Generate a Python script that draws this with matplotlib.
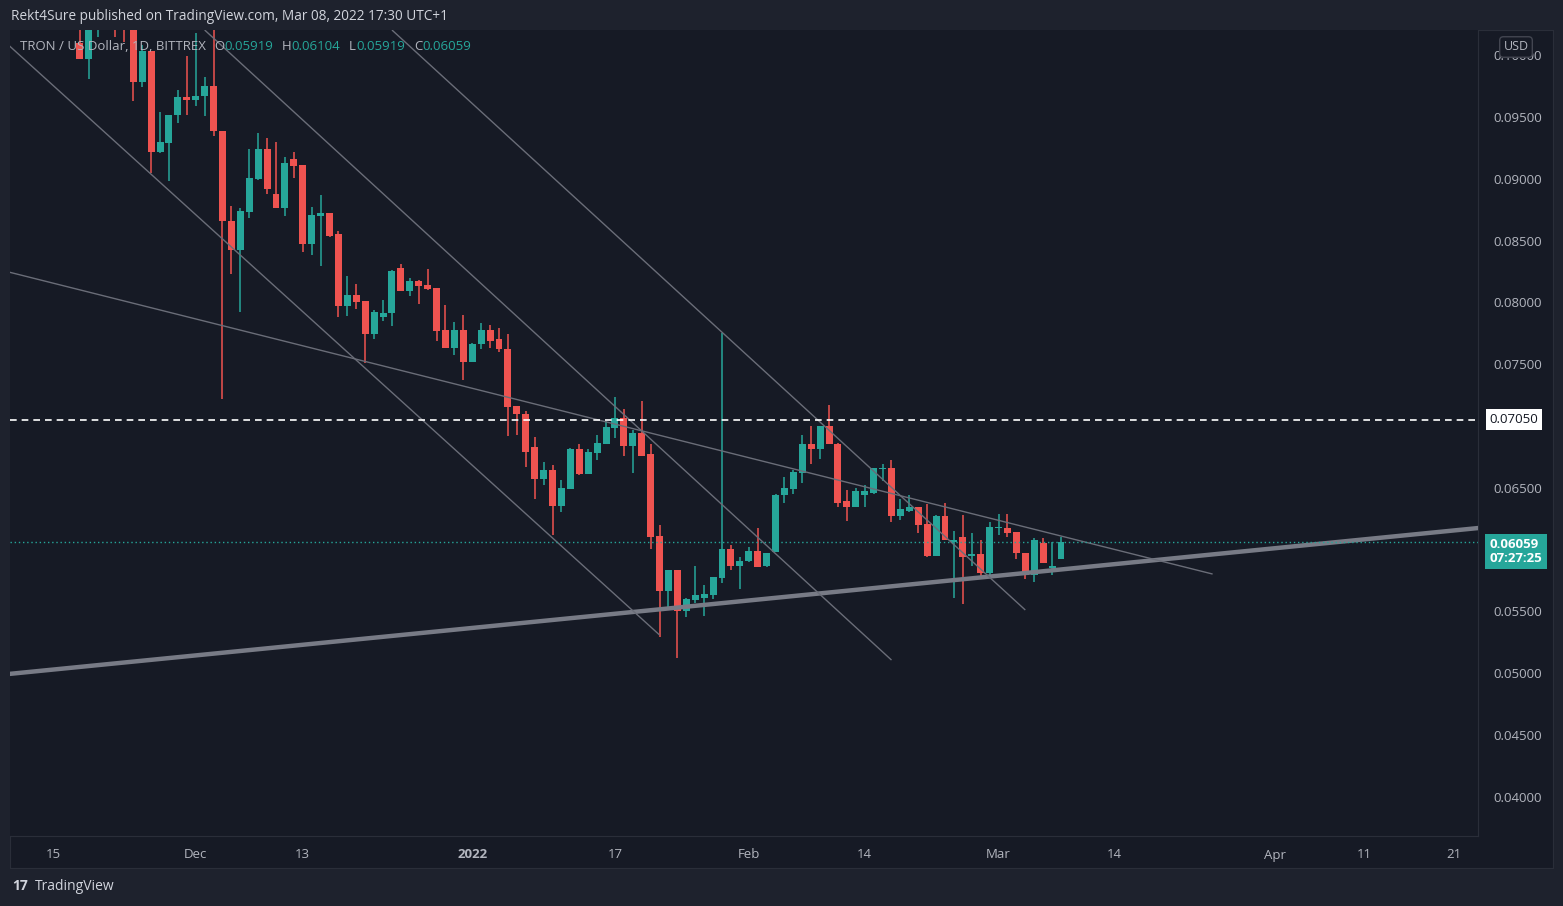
import matplotlib
matplotlib.use("Agg")
import matplotlib.pyplot as plt
import matplotlib.dates as mdates
import numpy as np
import datetime as dt

plt.rcParams["font.family"] = "Open Sans"

# ---------------- data ----------------
start_date = dt.date(2021, 11, 18)
opens = [0.1010, 0.0997, 0.1020, 0.1040, 0.1030, 0.1022, 0.1020, 0.0978, 0.1003, 0.0922, 0.0929, 0.0952,
         0.0966, 0.0964, 0.0967, 0.0975, 0.0939, 0.0866, 0.0842, 0.0873, 0.0900, 0.0924, 0.0888, 0.0876,
         0.0916, 0.0911, 0.0847, 0.0870, 0.0872, 0.0855, 0.0797, 0.0806, 0.0801, 0.0774, 0.0788, 0.0791,
         0.0828, 0.0809, 0.0817, 0.0814, 0.0812, 0.0778, 0.0763, 0.0778, 0.0752, 0.0766, 0.0778, 0.0770,
         0.0762, 0.0716, 0.0710, 0.0683, 0.0657, 0.0664, 0.0635, 0.0649, 0.0681, 0.0661, 0.0678, 0.0685,
         0.0698, 0.0706, 0.0684, 0.0694, 0.0677, 0.0611, 0.0566, 0.0583, 0.0550, 0.0559, 0.0561, 0.0563,
         0.0577, 0.0600, 0.0587, 0.0591, 0.0599, 0.0587, 0.0598, 0.0644, 0.0649, 0.0662, 0.0685, 0.0681,
         0.0700, 0.0685, 0.0639, 0.0634, 0.0644, 0.0646, 0.0665, 0.0666, 0.0627, 0.0631, 0.0634, 0.0621,
         0.0595, 0.0627, 0.0606, 0.0610, 0.0595, 0.0596, 0.0581, 0.0617, 0.0617, 0.0614, 0.0597, 0.0579,
         0.0605, 0.0585, 0.05919]
closes = [0.0997, 0.1020, 0.1040, 0.1030, 0.1022, 0.1020, 0.0978, 0.1003, 0.0922, 0.0930, 0.0952, 0.0966,
          0.0964, 0.0967, 0.0975, 0.0939, 0.0866, 0.0842, 0.0874, 0.0901, 0.0924, 0.0892, 0.0876, 0.0913,
          0.0910, 0.0847, 0.0871, 0.0872, 0.0854, 0.0797, 0.0806, 0.0800, 0.0774, 0.0792, 0.0791, 0.0825,
          0.0809, 0.0817, 0.0813, 0.0811, 0.0777, 0.0763, 0.0778, 0.0752, 0.0766, 0.0778, 0.0769, 0.0762,
          0.0715, 0.0710, 0.0679, 0.0657, 0.0664, 0.0635, 0.0650, 0.0681, 0.0661, 0.0679, 0.0686, 0.0699,
          0.0706, 0.0684, 0.0694, 0.0676, 0.0610, 0.0566, 0.0583, 0.0550, 0.0560, 0.0563, 0.0564, 0.0578,
          0.0600, 0.0587, 0.0591, 0.0599, 0.0586, 0.0597, 0.0644, 0.0650, 0.0663, 0.0685, 0.0681, 0.0700,
          0.0685, 0.0638, 0.0634, 0.0647, 0.0647, 0.0666, 0.0666, 0.0627, 0.0633, 0.0634, 0.0620, 0.0595,
          0.0627, 0.0608, 0.0608, 0.0594, 0.0596, 0.0581, 0.0618, 0.0618, 0.0613, 0.0597, 0.0579, 0.0608,
          0.0589, 0.0587, 0.06059]
highs = [0.1030, 0.1025, 0.1050, 0.1045, 0.1035, 0.1030, 0.1022, 0.1008, 0.1003, 0.0954, 0.0952, 0.0972,
         0.0999, 0.1018, 0.0982, 0.1020, 0.0939, 0.0878, 0.0876, 0.0924, 0.0937, 0.0933, 0.0930, 0.0918,
         0.0922, 0.0911, 0.0877, 0.0887, 0.0872, 0.0858, 0.0821, 0.0815, 0.0801, 0.0794, 0.0802, 0.0826,
         0.0831, 0.0820, 0.0818, 0.0827, 0.0812, 0.0798, 0.0784, 0.0790, 0.0767, 0.0783, 0.0782, 0.0779,
         0.0774, 0.0716, 0.0712, 0.0691, 0.0671, 0.0668, 0.0656, 0.0682, 0.0685, 0.0681, 0.0693, 0.0704,
         0.0723, 0.0714, 0.0697, 0.0720, 0.0685, 0.0620, 0.0583, 0.0583, 0.0561, 0.0587, 0.0571, 0.0578,
         0.0775, 0.0604, 0.0594, 0.0602, 0.0617, 0.0597, 0.0645, 0.0659, 0.0664, 0.0693, 0.0700, 0.0700,
         0.0717, 0.0686, 0.0648, 0.0650, 0.0652, 0.0666, 0.0669, 0.0672, 0.0641, 0.0644, 0.0634, 0.0637,
         0.0628, 0.0638, 0.0615, 0.0628, 0.0613, 0.0608, 0.0622, 0.0629, 0.0629, 0.0614, 0.0597, 0.0609,
         0.0609, 0.0606, 0.06104]
lows = [0.0997, 0.0981, 0.1015, 0.1020, 0.1015, 0.1011, 0.0963, 0.0974, 0.0905, 0.0921, 0.0898, 0.0945,
        0.0952, 0.0959, 0.0951, 0.0935, 0.0722, 0.0823, 0.0792, 0.0868, 0.0899, 0.0888, 0.0876, 0.0870,
        0.0901, 0.0841, 0.0838, 0.0829, 0.0853, 0.0788, 0.0789, 0.0795, 0.0751, 0.0770, 0.0785, 0.0781,
        0.0809, 0.0805, 0.0799, 0.0810, 0.0769, 0.0763, 0.0757, 0.0737, 0.0752, 0.0762, 0.0763, 0.0760,
        0.0692, 0.0693, 0.0667, 0.0641, 0.0652, 0.0612, 0.0630, 0.0649, 0.0660, 0.0661, 0.0672, 0.0685,
        0.0690, 0.0676, 0.0662, 0.0676, 0.0600, 0.0529, 0.0553, 0.0512, 0.0545, 0.0557, 0.0546, 0.0560,
        0.0573, 0.0583, 0.0568, 0.0590, 0.0586, 0.0586, 0.0598, 0.0638, 0.0645, 0.0654, 0.0669, 0.0673,
        0.0685, 0.0634, 0.0623, 0.0634, 0.0634, 0.0645, 0.0655, 0.0622, 0.0624, 0.0630, 0.0613, 0.0594,
        0.0595, 0.0608, 0.0561, 0.0556, 0.0587, 0.0576, 0.0578, 0.0612, 0.0610, 0.0592, 0.0576, 0.0574,
        0.0589, 0.0579, 0.05919]

# trend lines: (start date, start price, end date, end price)
support_line = (dt.date(2021, 11, 10), 0.04992, dt.date(2022, 4, 24), 0.06175)
upper_falling = (dt.date(2021, 11, 10), 0.08246, dt.date(2022, 3, 25), 0.05801)
channel_a = (dt.date(2021, 11, 10), 0.10083, dt.date(2022, 1, 22), 0.05308)
channel_b = (dt.date(2021, 12, 2), 0.10204, dt.date(2022, 2, 17), 0.05105)
channel_c = (dt.date(2021, 12, 23), 0.10204, dt.date(2022, 3, 4), 0.05510)
level_price = 0.07050
last_price = 0.06059

tick_dates = [dt.date(2021, 11, 15), dt.date(2021, 12, 1), dt.date(2021, 12, 13), dt.date(2022, 1, 1),
              dt.date(2022, 1, 17), dt.date(2022, 2, 1), dt.date(2022, 2, 14), dt.date(2022, 3, 1),
              dt.date(2022, 3, 14), dt.date(2022, 4, 1), dt.date(2022, 4, 11), dt.date(2022, 4, 21)]
tick_labels = ["15", "Dec", "13", "2022", "17", "Feb", "14", "Mar", "14", "Apr", "11", "21"]
y_ticks = [0.040, 0.045, 0.050, 0.055, 0.065, 0.075, 0.080, 0.085, 0.090, 0.095, 0.100]

# ---------------- style ----------------
W, H = 1563, 906
BG_OUT = "#1e222d"
BG = "#161a25"
UP = "#26a69a"
DN = "#ef5350"
TXT = "#b2b5be"

fig = plt.figure(figsize=(W / 100, H / 100), dpi=100, facecolor=BG_OUT)
bg_ax = fig.add_axes([10 / W, (H - 868) / H, 1543 / W, 838 / H], zorder=-5)
bg_ax.set_facecolor(BG)
bg_ax.set_xticks([]); bg_ax.set_yticks([])
for s in bg_ax.spines.values():
    s.set_color("#2a2e39")

ax = fig.add_axes([10 / W, (H - 836) / H, 1468 / W, 806 / H], zorder=1)
ax.set_facecolor(BG)

base = mdates.date2num(dt.date(2021, 11, 15))
ax.set_xlim(base - 4.82, base + 159.75)
ax.set_ylim(0.03681, 0.10204)

dates = np.array([mdates.date2num(start_date + dt.timedelta(days=i)) for i in range(len(opens))])
o = np.array(opens); c = np.array(closes); h = np.array(highs); l = np.array(lows)
col = np.where(c >= o, UP, DN)
ax.vlines(dates, l, h, colors=col, lw=1.1, zorder=3)
body_h = np.maximum(np.abs(c - o), 0.00012)
ax.bar(dates, body_h, bottom=np.minimum(o, c), width=0.78, color=col, zorder=4, linewidth=0)

def seg(line, lw, color, alpha=1.0):
    d0, p0, d1, p1 = line
    ax.plot([mdates.date2num(d0), mdates.date2num(d1)], [p0, p1], color=color, lw=lw, alpha=alpha,
            zorder=5, solid_capstyle="butt")

seg(support_line, 3.2, "#787b86")
for ln in (upper_falling, channel_a, channel_b, channel_c):
    seg(ln, 1.0, "#6a6d78")

ax.axhline(level_price, color="white", lw=1.2, ls=(0, (4, 3)), zorder=6)
ax.axhline(last_price, color=UP, lw=1.0, ls=(0, (1, 2)), zorder=6)

for s in ax.spines.values():
    s.set_visible(False)
ax.spines["right"].set_visible(True); ax.spines["right"].set_color("#2a2e39")
ax.spines["bottom"].set_visible(True); ax.spines["bottom"].set_color("#2a2e39")
ax.yaxis.tick_right()
ax.set_yticks(y_ticks)
ax.set_yticklabels([f"{v:.5f}" for v in y_ticks])
ax.tick_params(axis="y", length=0, pad=11, labelsize=9.5, labelcolor=TXT)
ax.set_xticks([mdates.date2num(d) for d in tick_dates])
ax.set_xticklabels(tick_labels)
ax.tick_params(axis="x", length=0, pad=9, labelsize=9.5, labelcolor=TXT)
for t in ax.get_xticklabels():
    if t.get_text() == "2022":
        t.set_fontweight("bold")

ax.text(1.008, level_price, f"{level_price:.5f}", transform=ax.get_yaxis_transform(), va="center",
        ha="left", fontsize=9.5, color="#131722", zorder=10, clip_on=False,
        bbox=dict(boxstyle="square,pad=0.3", fc="white", ec="none"))
ax.text(1.008, last_price - 0.00075, f"{last_price:.5f}\n07:27:25", transform=ax.get_yaxis_transform(),
        va="center", ha="left", fontsize=9.5, color="white", zorder=10, linespacing=1.05, clip_on=False,
        fontweight="bold", bbox=dict(boxstyle="square,pad=0.35", fc=UP, ec="none"))
fig.text(1516 / W, 1 - 47 / H, "USD", ha="center", va="center", fontsize=9, color=TXT, zorder=10,
         bbox=dict(boxstyle="round,pad=0.3", fc=BG, ec="#434651"))

fig.text(11 / W, 1 - 16 / H, "Rekt4Sure published on TradingView.com, Mar 08, 2022 17:30 UTC+1",
         fontsize=9.8, color="#d1d4dc", va="center")

# legend line, laid out piece by piece
renderer = fig.canvas.get_renderer()
pieces = [("TRON / US Dollar, 1D, BITTREX", TXT, 8), ("O", TXT, 0), (f"{opens[-1]:.5f}", UP, 9),
          ("H", TXT, 0), (f"{highs[-1]:.5f}", UP, 9), ("L", TXT, 0), (f"{lows[-1]:.5f}", UP, 9),
          ("C", TXT, 0), (f"{closes[-1]:.5f}", UP, 0)]
xpix = 20
for s, cc, gap in pieces:
    t = fig.text(xpix / W, 1 - 46 / H, s, fontsize=9.5, color=cc, va="center", zorder=12)
    xpix += t.get_window_extent(renderer).width + gap

fig.text(12 / W, 1 - 886 / H, "17", fontsize=10, color="#d1d4dc", va="center", fontweight="bold")
fig.text(35 / W, 1 - 886 / H, "TradingView", fontsize=10, color="#d1d4dc", va="center")

fig.savefig("out.png", dpi=100, facecolor=BG_OUT)
